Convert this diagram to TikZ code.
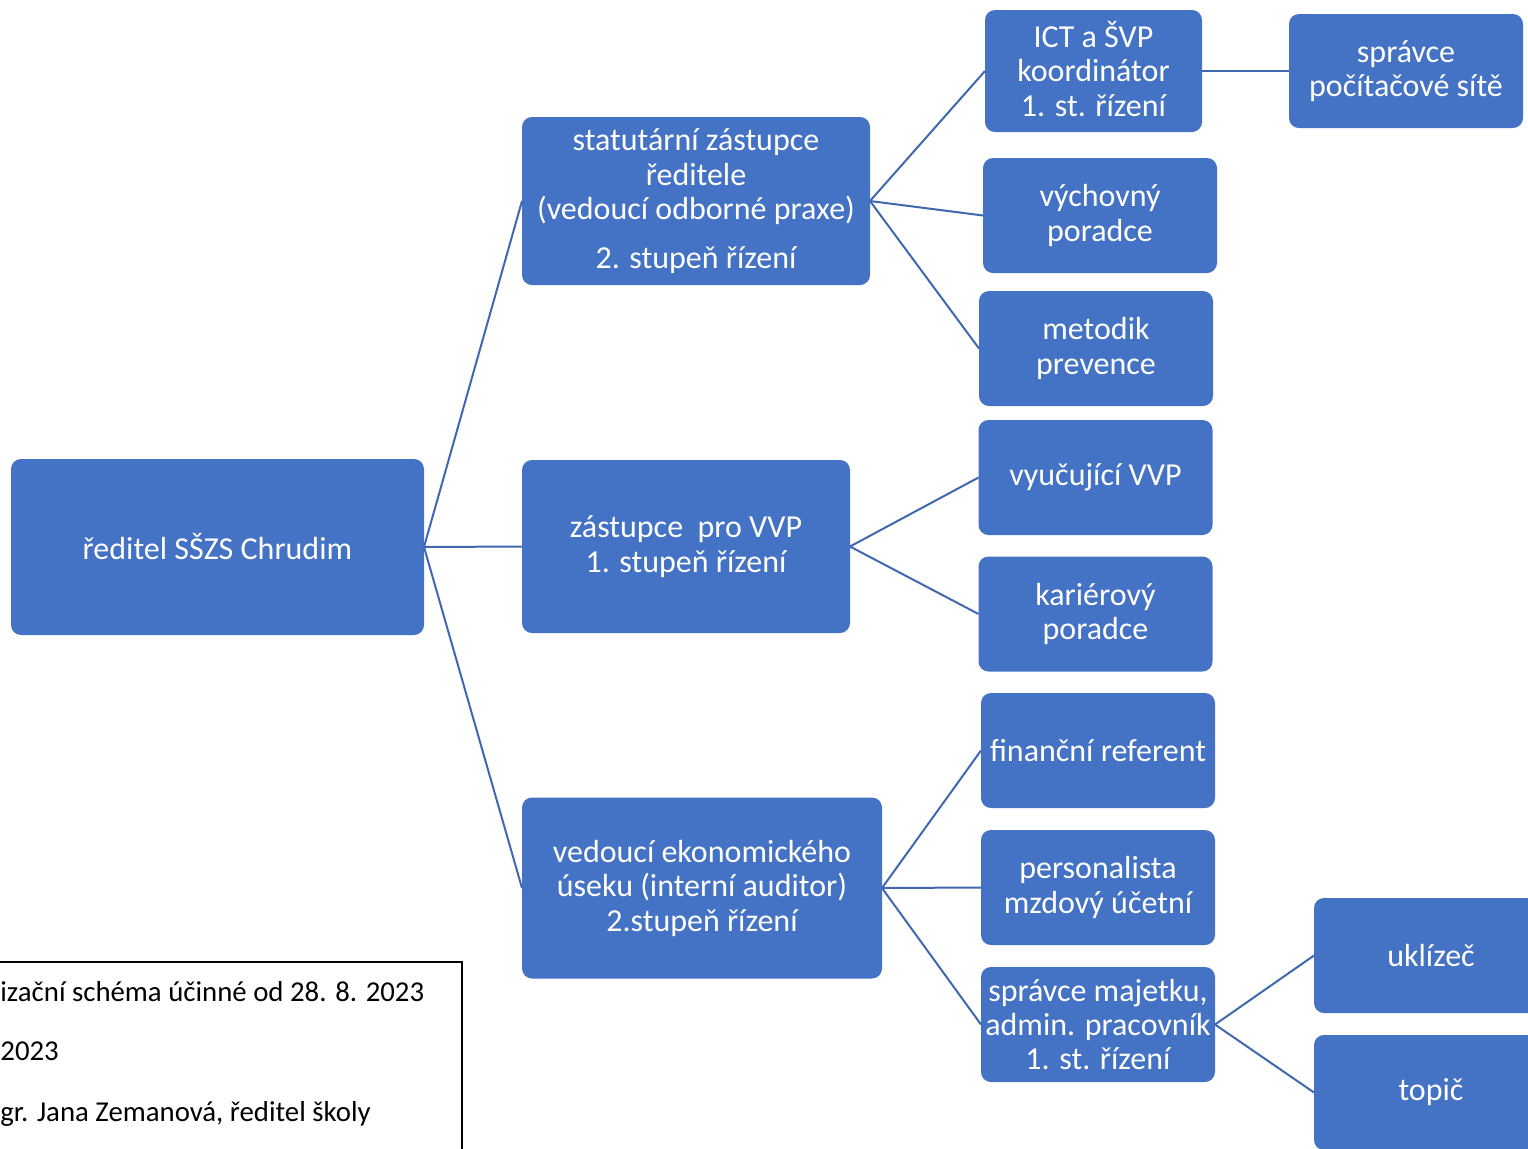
\documentclass[tikz,border=0pt]{standalone}
\usepackage{fontspec}
\setmainfont{Carlito}
\definecolor{boxblue}{HTML}{4472C4}
\definecolor{lineblue}{HTML}{4068AE}
\begin{document}
\begin{tikzpicture}[x=0.5pt,y=-0.5pt,
  bx/.style={fill=boxblue, rounded corners=5pt, text=white, align=center,
    inner sep=0pt, outer sep=0pt, font=\fontsize{16}{17.25}\selectfont},
  sm/.style={bx, minimum width=117pt, minimum height=57.5pt},
  ln/.style={draw=lineblue, line width=1pt},
  note/.style={anchor=mid west, inner sep=0pt, font=\fontsize{14.4}{17}\selectfont}]
\useasboundingbox (0,0) rectangle (1528,1148);
\clip (0,0) rectangle (1528,1148);
\fill[white] (0,0) rectangle (1528,1148);

\node[bx, minimum width=206.5pt, minimum height=88pt] (root) at (217.5,547) {ředitel SŠZS Chrudim};
\node[bx, minimum width=174pt, minimum height=84pt] (stat) at (696,201)
  {statutární zástupce\\ředitele\\(vedoucí odborné praxe)\\[7pt]2. stupeň řízení};
\node[bx, minimum width=164pt, minimum height=86.5pt] (vvp) at (686,546.5)
  {zástupce\ \ pro VVP\\1. stupeň řízení};
\node[bx, minimum width=180pt, minimum height=90.5pt] (ekon) at (702,888)
  {vedoucí ekonomického\\úseku (interní auditor)\\2.stupeň řízení};

\node[bx, minimum width=108.5pt, minimum height=61pt] (ict) at (1093.5,71) {};
\node[bx, anchor=center] (ictt) at (1093.5,69) {ICT a ŠVP\\koordinátor\\1. st. řízení};
\node[bx, minimum width=117pt, minimum height=57pt] (sit) at (1406,71)
  {správce\\počítačové sítě};
\node[sm] (vych) at (1100,215.5) {výchovný\\poradce};
\node[sm] (met) at (1096,348.5) {metodik\\prevence};
\node[sm] (vyuc) at (1095.5,477.5) {vyučující VVP};
\node[sm] (kar) at (1095.5,614) {kariérový\\poradce};
\node[sm] (fin) at (1098,750.5) {finanční referent};
\node[sm] (pers) at (1098,887.5) {personalista\\mzdový účetní};
\node[sm] (maj) at (1098,1024.5) {správce majetku,\\admin. pracovník\\1. st. řízení};
\node[sm] (ukl) at (1431,955.5) {uklízeč};
\node[sm] (top) at (1431,1092.5) {topič};

\draw[ln] (root.east) -- (stat.west);
\draw[ln] (root.east) -- (vvp.west);
\draw[ln] (root.east) -- (ekon.west);
\draw[ln] (stat.east) -- (ict.west);
\draw[ln] (stat.east) -- (vych.west);
\draw[ln] (stat.east) -- (met.west);
\draw[ln] (ict.east) -- (sit.west);
\draw[ln] (vvp.east) -- (vyuc.west);
\draw[ln] (vvp.east) -- (kar.west);
\draw[ln] (ekon.east) -- (fin.west);
\draw[ln] (ekon.east) -- (pers.west);
\draw[ln] (ekon.east) -- (maj.west);
\draw[ln] (maj.east) -- (ukl.west);
\draw[ln] (maj.east) -- (top.west);

\draw[black, line width=0.6pt] (-10,962) rectangle (462,1170);
\node[note] (n1) at (0,997) {izační schéma účinné od 28. 8. 2023};
\node[note] (n2) at (0,1056) {2023};
\node[note] (n3) at (0,1117) {gr. Jana Zemanová, ředitel školy};
\end{tikzpicture}
\end{document}
